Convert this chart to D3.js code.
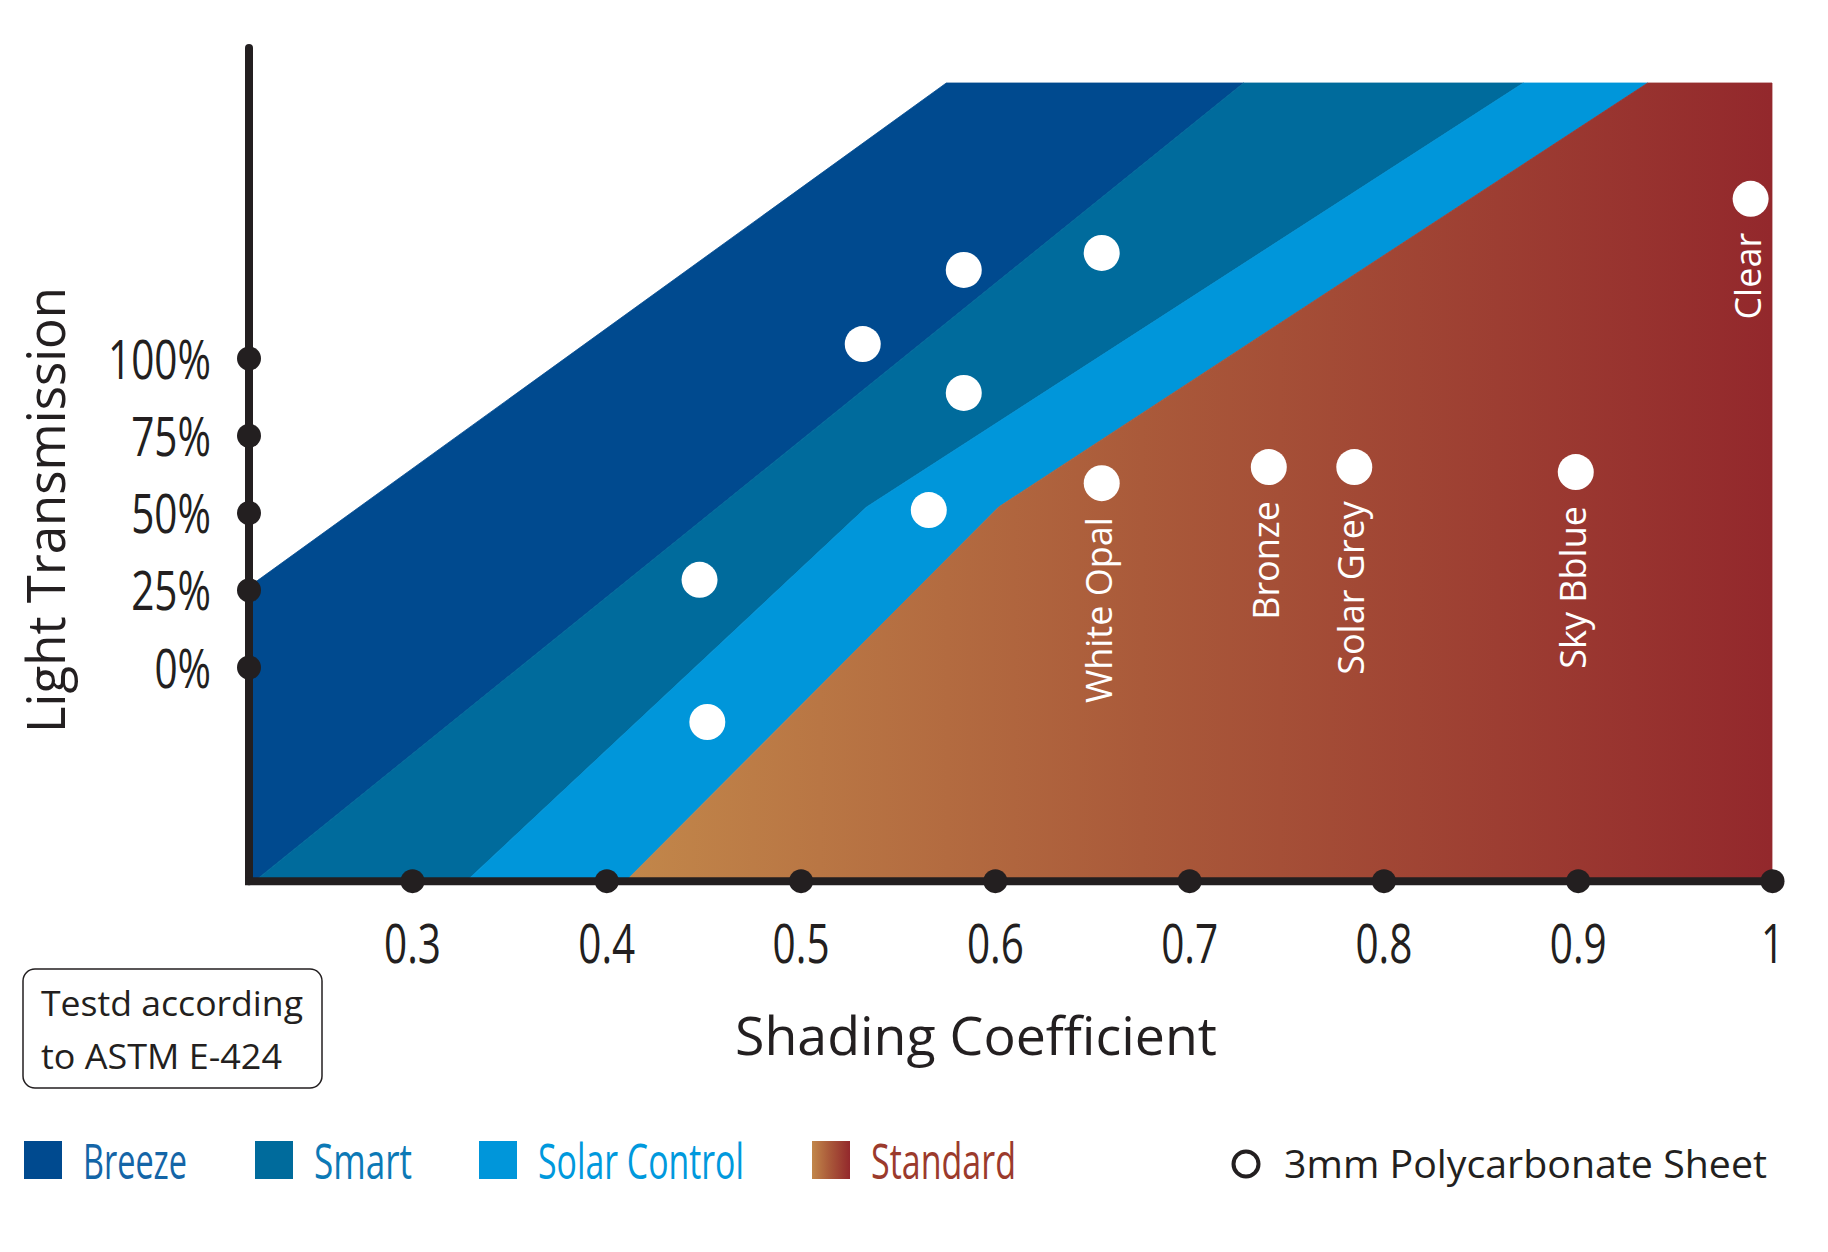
<!DOCTYPE html>
<html>
<head>
<meta charset="utf-8">
<script src="https://cdn.jsdelivr.net/npm/d3@7"></script>
<style>
  html, body { margin: 0; padding: 0; background: #ffffff; }
  svg { display: block; }
</style>
</head>
<body>
<svg id="chart" width="1828" height="1252"></svg>
<script>
// ---------------- DATA ----------------
const scTicks = [0.3, 0.4, 0.5, 0.6, 0.7, 0.8, 0.9, 1];
const scTickLabels = ["0.3", "0.4", "0.5", "0.6", "0.7", "0.8", "0.9", "1"];
const ltTicks = [0, 25, 50, 75, 100];
const ltTickLabels = ["0%", "25%", "50%", "75%", "100%"];

// band boundaries: [shading coefficient, light transmission %]
const bandTopLT = 189;
const bandBottomLT = -69.3;
const breezeUpper = [[0.2161, 26], [0.575, 189]];
const breezeSmart = [[0.219, -69.3], [0.728, 189]];
const smartSolar = [[0.328, -69.3], [0.534, 51.8], [0.872, 189]];
const solarStandard = [[0.410, -69.3], [0.602, 51.8], [0.936, 189]];

const bandNames = ["Breeze", "Smart", "Solar Control", "Standard"];
const bandColors = ["#004a8f", "#006b9c", "#0096da", "url(#stdGrad)"];
const bandTextColors = ["#1465a7", "#0c79b6", "#0099dd", "#9b3a2c"];

// 3mm polycarbonate sheet samples
const sheetSC = [0.584, 0.532, 0.584, 0.655, 0.566, 0.448, 0.452, 0.655, 0.741, 0.785, 0.899, 0.989];
const sheetLT = [128.5, 104.5, 88.7, 134, 50.8, 28.2, -17.8, 59.5, 64.7, 64.7, 63.1, 151.5];
const sheetLabels = ["", "", "", "", "", "", "", "White Opal", "Bronze", "Solar Grey", "Sky Bblue", "Clear"];

const xTitle = "Shading Coefficient";
const yTitle = "Light Transmission";
const noteLines = ["Testd according", "to ASTM E-424"];
const sheetLegend = "3mm Polycarbonate Sheet";

// ---------------- CHART ----------------
const svg = d3.select("#chart");
const ink = "#231f20";
const x = d3.scaleLinear().domain([0.2161, 1]).range([249, 1772]);
const y = d3.scaleLinear().domain([0, 100]).range([667, 358]);

const defs = svg.append("defs");
const stops = [[0, "#c2874a"], [0.45, "#aa5a3a"], [1, "#93282c"]];
const g1 = defs.append("linearGradient").attr("id", "stdGrad")
  .attr("gradientUnits", "userSpaceOnUse")
  .attr("x1", x(solarStandard[0][0])).attr("x2", x(1)).attr("y1", 0).attr("y2", 0);
stops.forEach(s => g1.append("stop").attr("offset", s[0]).attr("stop-color", s[1]));
const g2 = defs.append("linearGradient").attr("id", "stdGradLeg")
  .attr("x1", 0).attr("x2", 1).attr("y1", 0).attr("y2", 0);
stops.forEach(s => g2.append("stop").attr("offset", s[0]).attr("stop-color", s[1]));

const line = d3.line().x(d => x(d[0])).y(d => y(d[1]));
const rev = a => a.slice().reverse();
const xMin = x.domain()[0];

const polys = [
  [[xMin, bandBottomLT]].concat(breezeUpper, rev(breezeSmart)),
  breezeSmart.concat(rev(smartSolar)),
  smartSolar.concat(rev(solarStandard)),
  solarStandard.concat([[1, bandTopLT], [1, bandBottomLT]])
];

svg.append("g").selectAll("path").data(polys).join("path")
  .attr("d", d => line(d) + "Z")
  .attr("fill", (d, i) => bandColors[i])
  .attr("stroke", (d, i) => bandColors[i])
  .attr("stroke-width", 0.8);

// Y axis line
svg.append("line")
  .attr("x1", x(xMin)).attr("x2", x(xMin))
  .attr("y1", y(200.3)).attr("y2", y(bandBottomLT))
  .attr("stroke", ink).attr("stroke-width", 8).attr("stroke-linecap", "round");

// X axis
const xAxis = d3.axisBottom(x).tickValues(scTicks)
  .tickFormat((d, i) => scTickLabels[i]).tickSize(0).tickSizeOuter(0);
const gx = svg.append("g").attr("transform", `translate(0,${y(bandBottomLT)})`).call(xAxis);
gx.select(".domain").attr("stroke", ink).attr("stroke-width", 8)
  .attr("d", `M${x(xMin) - 4},0H${x(1)}`);
gx.selectAll(".tick").append("circle").attr("r", 12).attr("fill", ink);
gx.selectAll(".tick text")
  .attr("y", 82).attr("dy", null)
  .attr("fill", ink)
  .attr("font-family", "'Open Sans', sans-serif")
  .attr("font-size", 54)
  .attr("transform", "scale(0.75,1)");

// Y axis ticks
const yAxis = d3.axisLeft(y).tickValues(ltTicks)
  .tickFormat((d, i) => ltTickLabels[i]).tickSize(0);
const gy = svg.append("g").attr("transform", `translate(${x(xMin)},0)`).call(yAxis);
gy.select(".domain").remove();
gy.selectAll(".tick").append("circle").attr("r", 12).attr("fill", ink);
gy.selectAll(".tick text")
  .attr("x", -38 / 0.75).attr("dy", 20)
  .attr("fill", ink)
  .attr("font-family", "'Open Sans', sans-serif")
  .attr("font-size", 54)
  .attr("transform", "scale(0.75,1)");

// sample points
const pts = sheetSC.map((v, i) => ({ sc: v, lt: sheetLT[i], label: sheetLabels[i] }));
svg.append("g").selectAll("circle").data(pts).join("circle")
  .attr("cx", d => x(d.sc)).attr("cy", d => y(d.lt)).attr("r", 18)
  .attr("fill", "#ffffff");
svg.append("g").selectAll("text").data(pts.filter(d => d.label)).join("text")
  .attr("transform", d => `translate(${x(d.sc) + 10},${y(d.lt) + 34}) rotate(-90)`)
  .attr("text-anchor", "end")
  .attr("fill", "#ffffff")
  .attr("font-family", "'Open Sans', sans-serif")
  .attr("font-size", 36)
  .text(d => d.label);

// axis titles
svg.append("text")
  .attr("transform", `translate(65,510) rotate(-90)`)
  .attr("text-anchor", "middle")
  .attr("fill", ink)
  .attr("font-family", "'Open Sans', sans-serif")
  .attr("font-size", 53)
  .attr("textLength", 446).attr("lengthAdjust", "spacingAndGlyphs")
  .text(yTitle);
svg.append("text")
  .attr("x", 976).attr("y", 1055)
  .attr("text-anchor", "middle")
  .attr("fill", ink)
  .attr("font-family", "'Open Sans', sans-serif")
  .attr("font-size", 53)
  .attr("textLength", 482).attr("lengthAdjust", "spacingAndGlyphs")
  .text(xTitle);

// note box
svg.append("rect").attr("x", 23).attr("y", 969).attr("width", 299).attr("height", 119)
  .attr("rx", 12).attr("fill", "#ffffff").attr("stroke", ink).attr("stroke-width", 1.5);
const noteLens = [262, 241];
svg.append("g").selectAll("text").data(noteLines).join("text")
  .attr("x", 41).attr("y", (d, i) => 1016 + i * 53)
  .attr("fill", ink)
  .attr("font-family", "'Open Sans', sans-serif")
  .attr("font-size", 35)
  .attr("textLength", (d, i) => noteLens[i]).attr("lengthAdjust", "spacingAndGlyphs")
  .text(d => d);

// legend
const legX = [24, 255, 479, 812];
const legLens = [104, 98, 206, 145];
const leg = svg.append("g").selectAll("g").data(bandNames).join("g")
  .attr("transform", (d, i) => `translate(${legX[i]},1141)`);
leg.append("rect").attr("width", 38).attr("height", 38)
  .attr("fill", (d, i) => i === 3 ? "url(#stdGradLeg)" : bandColors[i]);
leg.append("text").attr("x", 59).attr("y", 38)
  .attr("fill", (d, i) => bandTextColors[i])
  .attr("font-family", "'Open Sans', sans-serif")
  .attr("font-size", 50)
  .attr("textLength", (d, i) => legLens[i]).attr("lengthAdjust", "spacingAndGlyphs")
  .text(d => d);

svg.append("circle").attr("cx", 1246).attr("cy", 1164).attr("r", 12.5)
  .attr("fill", "none").attr("stroke", ink).attr("stroke-width", 4);
svg.append("text").attr("x", 1284).attr("y", 1178)
  .attr("fill", ink)
  .attr("font-family", "'Open Sans', sans-serif")
  .attr("font-size", 39)
  .attr("textLength", 483).attr("lengthAdjust", "spacingAndGlyphs")
  .text(sheetLegend);
</script>
</body>
</html>
